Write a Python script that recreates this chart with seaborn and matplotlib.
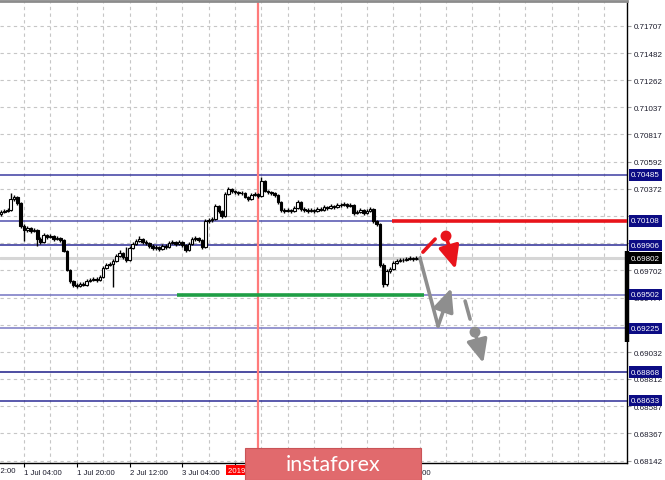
import matplotlib
matplotlib.use("Agg")
import matplotlib.pyplot as plt
import matplotlib.transforms as mtransforms
from matplotlib.patches import Rectangle
import numpy as np
import pandas as pd
import seaborn as sns

# ---------------- data ----------------
# hours counted from 1 Jul 00:00, one candle per hour
bar_hours = list(range(-3, 125))

opens = [0.70163, 0.70179, 0.70188, 0.70196, 0.70286, 0.70302, 0.70253, 0.70065, 0.70032, 0.70048,
         0.70024, 0.70032, 0.69958, 0.69933, 0.69991, 0.69974, 0.69983, 0.69958, 0.69966, 0.69950,
         0.69860, 0.69704, 0.69614, 0.69581, 0.69573, 0.69589, 0.69581, 0.69614, 0.69622, 0.69630,
         0.69622, 0.69646, 0.69720, 0.69745, 0.69753, 0.69777, 0.69819, 0.69843, 0.69810, 0.69786,
         0.69884, 0.69917, 0.69942, 0.69958, 0.69933, 0.69925, 0.69901, 0.69884, 0.69892, 0.69876,
         0.69901, 0.69892, 0.69925, 0.69933, 0.69917, 0.69933, 0.69909, 0.69868, 0.69917, 0.69958,
         0.69966, 0.69950, 0.69892, 0.70106, 0.70114, 0.70122, 0.70229, 0.70188, 0.70147, 0.70327,
         0.70368, 0.70352, 0.70343, 0.70335, 0.70335, 0.70302, 0.70286, 0.70319, 0.70327, 0.70310,
         0.70434, 0.70352, 0.70343, 0.70335, 0.70319, 0.70261, 0.70196, 0.70188, 0.70196, 0.70188,
         0.70212, 0.70261, 0.70204, 0.70196, 0.70188, 0.70196, 0.70188, 0.70204, 0.70196, 0.70220,
         0.70212, 0.70229, 0.70220, 0.70237, 0.70237, 0.70245, 0.70229, 0.70237, 0.70171, 0.70179,
         0.70196, 0.70171, 0.70188, 0.70204, 0.70106, 0.70081, 0.69745, 0.69589, 0.69695, 0.69712,
         0.69761, 0.69777, 0.69786, 0.69786, 0.69794, 0.69802, 0.69794, 0.69802]

closes = [0.70179, 0.70188, 0.70196, 0.70286, 0.70302, 0.70253, 0.70065, 0.70032, 0.70048, 0.70024,
          0.70032, 0.69958, 0.69933, 0.69991, 0.69974, 0.69983, 0.69958, 0.69966, 0.69950, 0.69860,
          0.69704, 0.69614, 0.69581, 0.69573, 0.69589, 0.69581, 0.69614, 0.69622, 0.69630, 0.69622,
          0.69646, 0.69720, 0.69745, 0.69753, 0.69777, 0.69819, 0.69843, 0.69810, 0.69786, 0.69884,
          0.69917, 0.69942, 0.69958, 0.69933, 0.69925, 0.69901, 0.69884, 0.69892, 0.69876, 0.69901,
          0.69892, 0.69925, 0.69933, 0.69917, 0.69933, 0.69909, 0.69868, 0.69917, 0.69958, 0.69966,
          0.69950, 0.69892, 0.70106, 0.70114, 0.70122, 0.70229, 0.70188, 0.70147, 0.70327, 0.70368,
          0.70352, 0.70343, 0.70335, 0.70335, 0.70302, 0.70286, 0.70319, 0.70327, 0.70310, 0.70434,
          0.70352, 0.70343, 0.70335, 0.70319, 0.70261, 0.70196, 0.70188, 0.70196, 0.70188, 0.70212,
          0.70261, 0.70204, 0.70196, 0.70188, 0.70196, 0.70188, 0.70204, 0.70196, 0.70220, 0.70212,
          0.70229, 0.70220, 0.70237, 0.70237, 0.70245, 0.70229, 0.70237, 0.70171, 0.70179, 0.70196,
          0.70171, 0.70188, 0.70204, 0.70106, 0.70081, 0.69745, 0.69589, 0.69695, 0.69712, 0.69761,
          0.69777, 0.69786, 0.69786, 0.69794, 0.69802, 0.69794, 0.69802, 0.69802]

highs = [0.70196, 0.70204, 0.70212, 0.70335, 0.70319, 0.70310, 0.70261, 0.70081, 0.70065, 0.70056,
         0.70048, 0.70040, 0.69974, 0.70007, 0.69999, 0.69999, 0.69991, 0.69983, 0.69974, 0.69958,
         0.69868, 0.69712, 0.69622, 0.69597, 0.69605, 0.69605, 0.69630, 0.69638, 0.69646, 0.69646,
         0.69663, 0.69736, 0.69761, 0.69769, 0.69794, 0.69835, 0.69868, 0.69851, 0.69892, 0.69901,
         0.69933, 0.69958, 0.69983, 0.69966, 0.69950, 0.69933, 0.69917, 0.69909, 0.69901, 0.69917,
         0.69917, 0.69942, 0.69950, 0.69942, 0.69950, 0.69942, 0.69917, 0.69933, 0.69974, 0.69983,
         0.69974, 0.69958, 0.70122, 0.70130, 0.70138, 0.70245, 0.70237, 0.70196, 0.70343, 0.70384,
         0.70376, 0.70360, 0.70352, 0.70352, 0.70343, 0.70310, 0.70335, 0.70343, 0.70335, 0.70466,
         0.70442, 0.70360, 0.70352, 0.70343, 0.70327, 0.70270, 0.70212, 0.70212, 0.70204, 0.70229,
         0.70278, 0.70270, 0.70220, 0.70212, 0.70212, 0.70204, 0.70220, 0.70220, 0.70237, 0.70229,
         0.70245, 0.70237, 0.70253, 0.70253, 0.70261, 0.70253, 0.70253, 0.70245, 0.70196, 0.70212,
         0.70204, 0.70204, 0.70220, 0.70212, 0.70114, 0.70089, 0.69761, 0.69712, 0.69728, 0.69777,
         0.69794, 0.69802, 0.69802, 0.69810, 0.69819, 0.69810, 0.69819, 0.69819]

lows = [0.70147, 0.70171, 0.70179, 0.70188, 0.70270, 0.70237, 0.70048, 0.69942, 0.70015, 0.70007,
        0.70015, 0.69901, 0.69917, 0.69925, 0.69958, 0.69966, 0.69942, 0.69950, 0.69933, 0.69851,
        0.69695, 0.69597, 0.69564, 0.69556, 0.69564, 0.69573, 0.69573, 0.69605, 0.69614, 0.69605,
        0.69614, 0.69638, 0.69712, 0.69736, 0.69564, 0.69769, 0.69810, 0.69794, 0.69769, 0.69777,
        0.69876, 0.69909, 0.69933, 0.69917, 0.69909, 0.69884, 0.69868, 0.69868, 0.69860, 0.69868,
        0.69876, 0.69884, 0.69917, 0.69901, 0.69909, 0.69892, 0.69851, 0.69860, 0.69909, 0.69942,
        0.69933, 0.69876, 0.69884, 0.70089, 0.70098, 0.70114, 0.70171, 0.70130, 0.70138, 0.70319,
        0.70335, 0.70327, 0.70319, 0.70319, 0.70294, 0.70270, 0.70278, 0.70310, 0.70294, 0.70302,
        0.70343, 0.70327, 0.70319, 0.70302, 0.70245, 0.70179, 0.70171, 0.70179, 0.70171, 0.70179,
        0.70204, 0.70188, 0.70179, 0.70171, 0.70179, 0.70171, 0.70179, 0.70188, 0.70188, 0.70196,
        0.70204, 0.70204, 0.70212, 0.70220, 0.70229, 0.70212, 0.70220, 0.70155, 0.70163, 0.70171,
        0.70155, 0.70163, 0.70179, 0.70089, 0.70065, 0.69728, 0.69564, 0.69573, 0.69679, 0.69704,
        0.69753, 0.69769, 0.69769, 0.69777, 0.69786, 0.69777, 0.69786, 0.69786]

# right-hand price scale
price_ticks = [0.71707, 0.71482, 0.71262, 0.71037, 0.70817, 0.70592, 0.70372, 0.70147, 0.69922,
               0.69702, 0.69477, 0.69257, 0.69032, 0.68812, 0.68587, 0.68367, 0.68142]

# horizontal levels with their boxed labels
levels = [0.70485, 0.70108, 0.69906, 0.69502, 0.69225, 0.68868, 0.68633]
level_colors = ['#3c3ca2', '#5050ae', '#2c2c96', '#7474c2', '#7a7ac4', '#1c1c88', '#2c2c96']
current_price = 0.69802

# time axis (labels under the watermark are not visible in the source)
time_ticks = [4, 20, 36, 52, 68, 84, 100, 116]
time_labels = ["1 Jul 04:00", "1 Jul 20:00", "2 Jul 12:00", "3 Jul 04:00",
               "", "", "", "5 Jul 20:00"]
grid_hours = list(range(4, 187, 8))
x_range = (-3.28, 186.9)
y_range = (0.68126, 0.71910)
marker_hour = 75
marker_label = "2019.07.04 03:00"

# support / resistance segments
resist_level, resist_start = 0.70108, 115.6
support_level, support_start, support_end = 0.69502, 50.4, 125.3

# forecast sketch
red_dash_h = [125.0, 128.7]
red_dash_p = [0.69851, 0.69958]
red_dot = (132.0, 0.69983)
red_arrow_end = (134.9, 0.69712)
grey_path_h = [124.1, 129.6]
grey_path_p = [0.69802, 0.69245]
grey_arrow_end = (133.6, 0.69556)
grey_dash_h = [137.8, 139.3]
grey_dash_p = [0.69450, 0.69302]
grey_dot = (140.8, 0.69195)
grey_arrow2_end = (143.3, 0.68942)

# ---------------- style ----------------
sns.set_style("white")
plt.rcParams['font.family'] = ['Liberation Sans', 'DejaVu Sans']

W, H = 665, 481
fig = plt.figure(figsize=(W / 100, H / 100), dpi=100)
fig.patch.set_facecolor('white')
ax_left, ax_right, ax_top, ax_bottom = 0, 627, 2, 463.5
ax = fig.add_axes([ax_left / W, (H - ax_bottom) / H, (ax_right - ax_left) / W, (ax_bottom - ax_top) / H])
ax.set_facecolor('white')
ax.set_xlim(*x_range)
ax.set_ylim(*y_range)

grid_kw = dict(color='#c6c6c6', lw=0.8, ls=(0, (3, 3)), zorder=0)
for gh in grid_hours:
    ax.axvline(gh, **grid_kw)
for pt in price_ticks:
    ax.axhline(pt, **grid_kw)

# current price line
ax.axhline(current_price, color='#d6d6d6', lw=2.2, zorder=1)

# levels
for lv, col in zip(levels, level_colors):
    ax.axhline(lv, color=col, lw=1.1, zorder=2)

# vertical marker
ax.axvline(marker_hour, color='#ff7b7b', lw=1.6, zorder=2)

# support / resistance
ax.plot([resist_start, x_range[1]], [resist_level, resist_level], color='#e8141b', lw=2.6, zorder=3,
        solid_capstyle='butt')
ax.plot([support_start, support_end], [support_level, support_level], color='#1f9e45', lw=2.6, zorder=3,
        solid_capstyle='butt')

# candles
df = pd.DataFrame({'h': bar_hours, 'o': opens, 'hi': highs, 'lo': lows, 'c': closes})
ax.vlines(df['h'], df['lo'], df['hi'], color='black', lw=1.0, zorder=4)
body_bottom = np.minimum(df['o'], df['c'])
body_height = np.maximum(np.abs(df['c'] - df['o']), 0.000015)
face = np.where(df['c'] >= df['o'], 'white', 'black')
ax.bar(df['h'], body_height, bottom=body_bottom, width=0.8, color=face, edgecolor='black',
       linewidth=0.8, zorder=5)

# forecast sketch
red = '#e8141b'
grey = '#8e8e8e'
sns.lineplot(x=red_dash_h, y=red_dash_p, ax=ax, color=red, lw=2.6, zorder=6)
sns.lineplot(x=grey_path_h, y=grey_path_p, ax=ax, color=grey, lw=2.6, zorder=6)
sns.lineplot(x=grey_dash_h, y=grey_dash_p, ax=ax, color=grey, lw=2.6, zorder=6)
arrow_kw = dict(arrowstyle='-|>,head_length=1.0,head_width=0.45', lw=2.6, mutation_scale=14,
                shrinkA=0, shrinkB=0)
ax.annotate('', xy=red_arrow_end, xytext=red_dot,
            arrowprops=dict(color=red, **arrow_kw), zorder=6)
ax.annotate('', xy=grey_arrow_end, xytext=(grey_path_h[-1], grey_path_p[-1]),
            arrowprops=dict(color=grey, **arrow_kw), zorder=6)
ax.annotate('', xy=grey_arrow2_end, xytext=grey_dot,
            arrowprops=dict(color=grey, **arrow_kw), zorder=6)
sns.scatterplot(x=[red_dot[0]], y=[red_dot[1]], ax=ax, color=red, s=62, edgecolor='none', zorder=7)
sns.scatterplot(x=[grey_dot[0]], y=[grey_dot[1]], ax=ax, color=grey, s=62, edgecolor='none', zorder=7)
ax.set_xlabel('')
ax.set_ylabel('')

# axes frame
ax.spines['left'].set_visible(False)
ax.spines['top'].set_color('#8c8c8c')
ax.spines['top'].set_linewidth(2)
ax.spines['right'].set_color('black')
ax.spines['right'].set_linewidth(1.0)
ax.spines['bottom'].set_color('black')
ax.spines['bottom'].set_linewidth(1.0)

# price scale on the right
ax.yaxis.tick_right()
ax.set_yticks(price_ticks)
ax.set_yticklabels([f"{v:.5f}" for v in price_ticks])
ax.tick_params(axis='y', which='major', length=3, width=0.8, color='#9a9a9a', pad=1.5,
               labelsize=5.8, labelcolor='#1c1c2c', right=True, left=False)

# time scale
ax.set_xticks(time_ticks)
ax.set_xticklabels(time_labels)
ax.tick_params(axis='x', which='major', length=3, width=0.8, color='black', pad=1.5,
               labelsize=5.6, labelcolor='#1c1c2c', bottom=True)
for lab in ax.get_xticklabels():
    lab.set_ha('left')
xtrans = mtransforms.blended_transform_factory(ax.transData, ax.transAxes)
ax.text(-12, -0.0095, "30 Jun 12:00", transform=xtrans, ha='left', va='top', fontsize=5.6,
        color='#1c1c2c', clip_on=False)

# thick price-range bar on the scale
ytrans = mtransforms.blended_transform_factory(ax.transAxes, ax.transData)
ax.plot([1.0, 1.0], [0.69860, 0.69113], transform=ytrans, color='black', lw=3.2, clip_on=False, zorder=8,
        solid_capstyle='butt')

# boxed level labels
for lv in levels:
    ax.annotate(f"{lv:.5f}", xy=(1.0, lv), xycoords=ytrans, xytext=(4, 0), textcoords='offset pixels',
                ha='left', va='center', fontsize=5.8, color='white', annotation_clip=False,
                bbox=dict(boxstyle='square,pad=0.28', fc='#0c0c84', ec='none'), zorder=9)
ax.annotate(f"{current_price:.5f}", xy=(1.0, current_price), xycoords=ytrans, xytext=(4, 0),
            textcoords='offset pixels', ha='left', va='center', fontsize=5.8, color='white',
            annotation_clip=False, bbox=dict(boxstyle='square,pad=0.28', fc='black', ec='none'), zorder=9)

# red time marker label
ax.text(marker_hour, -0.0095, marker_label, transform=xtrans, ha='center', va='top', fontsize=5.6,
        color='white', clip_on=False, zorder=9,
        bbox=dict(boxstyle='square,pad=0.2', fc='#ff0000', ec='none'))

# watermark banner
bx0, by0, bx1, by1 = 245, 449, 421, 481
fig.patches.append(Rectangle((bx0 / W, (H - by1) / H), (bx1 - bx0) / W, (by1 - by0) / H,
                             transform=fig.transFigure, facecolor='#e16a6d', edgecolor='#c95457',
                             lw=0.8, zorder=20))
fig.text(((bx0 + bx1) / 2) / W, (H - (by0 + by1) / 2) / H, "instaforex", ha='center', va='center',
         fontsize=15.5, color='white', family=['Lato', 'DejaVu Sans'], zorder=21)

fig.savefig("out.png", dpi=100, facecolor='white')
